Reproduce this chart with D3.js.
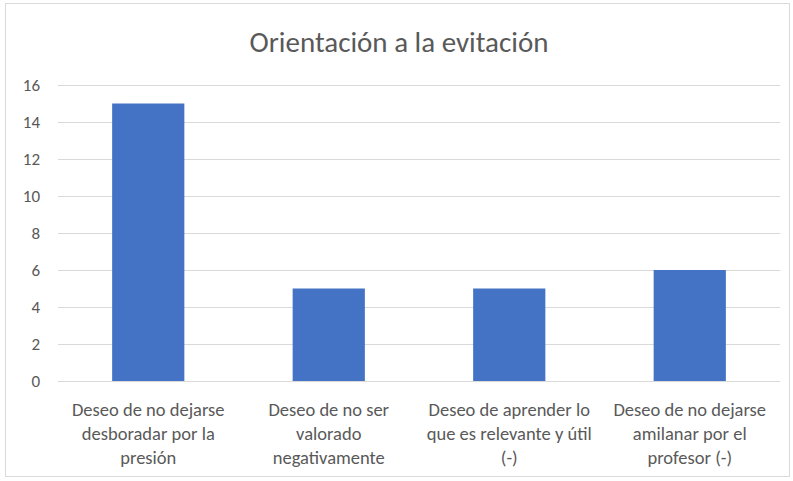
<!DOCTYPE html>
<html>
<head>
<meta charset="utf-8">
<script src="https://cdn.jsdelivr.net/npm/d3@7"></script>
<style>
  body { margin: 0; background: #fff; }
  svg { font-family: Carlito, Lato, "Liberation Sans", sans-serif; }
</style>
</head>
<body>
<svg id="chart"></svg>
<script>
var categories = [
  ["Deseo de no dejarse", "desboradar por la", "presión"],
  ["Deseo de no ser", "valorado", "negativamente"],
  ["Deseo de aprender lo", "que es relevante y útil", "(-)"],
  ["Deseo de no dejarse", "amilanar por el", "profesor (-)"]
];
var values = [15, 5, 5, 6];
var yTicks = [0, 2, 4, 6, 8, 10, 12, 14, 16];
var title = "Orientación a la evitación";

var width = 793, height = 481;
var margin = { top: 85, right: 13, bottom: 100, left: 58 };

var svg = d3.select("#chart").attr("width", width).attr("height", height);

// chart frame
svg.append("rect").attr("x", 5.5).attr("y", 3.5).attr("width", 784).attr("height", 473)
  .attr("fill", "#fff").attr("stroke", "#d9d9d9");

svg.append("text").attr("x", 399).attr("y", 52).attr("text-anchor", "middle")
  .attr("font-size", 29).attr("fill", "#595959").text(title);

var x = d3.scaleBand().domain(d3.range(categories.length))
  .range([margin.left, width - margin.right]).paddingInner(0.6).paddingOuter(0.3);
var y = d3.scaleLinear().domain([0, 16]).range([height - margin.bottom, margin.top]);

// gridlines
svg.append("g").selectAll("line").data(yTicks).enter().append("line")
  .attr("x1", margin.left).attr("x2", width - margin.right)
  .attr("y1", function (d) { return Math.round(y(d)) + 0.5; })
  .attr("y2", function (d) { return Math.round(y(d)) + 0.5; })
  .attr("stroke", "#d9d9d9").attr("stroke-width", 1);

var yAxis = d3.axisLeft(y).tickValues(yTicks).tickSize(0).tickPadding(0);
var gy = svg.append("g").attr("transform", "translate(40,0)").call(yAxis);
gy.select(".domain").remove();
gy.selectAll("text").attr("font-size", 17).attr("fill", "#595959")
  .attr("font-family", "Carlito, Lato, 'Liberation Sans', sans-serif");

svg.append("g").selectAll("rect").data(values).enter().append("rect")
  .attr("x", function (d, i) { return x(i); })
  .attr("width", x.bandwidth())
  .attr("y", function (d) { return y(d); })
  .attr("height", function (d) { return y(0) - y(d); })
  .attr("fill", "#4472c4");

var labels = svg.append("g").selectAll("text").data(categories).enter().append("text")
  .attr("text-anchor", "middle").attr("font-size", 18.5).attr("fill", "#595959")
  .attr("x", function (d, i) { return x(i) + x.bandwidth() / 2; })
  .attr("y", 416);
labels.selectAll("tspan").data(function (d) { return d; }).enter().append("tspan")
  .attr("x", function () { return d3.select(this.parentNode).attr("x"); })
  .attr("dy", function (d, i) { return i === 0 ? 0 : 24; })
  .text(function (d) { return d; });
</script>
</body>
</html>
